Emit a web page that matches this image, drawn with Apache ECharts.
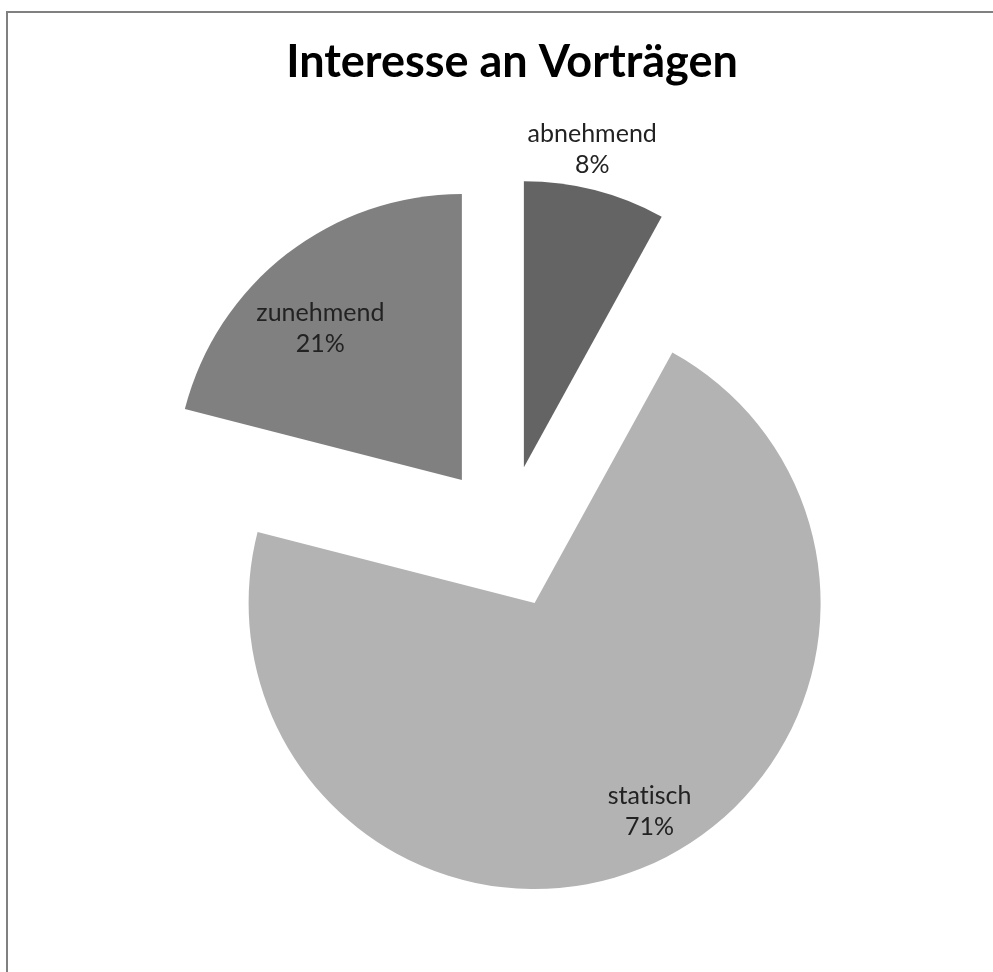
<!DOCTYPE html>
<html>
<head>
<meta charset="utf-8">
<script src="https://cdn.jsdelivr.net/npm/echarts@6/dist/echarts.min.js"></script>
<style>
html,body{margin:0;padding:0;background:#fff;}
#chart{width:993px;height:972px;}
</style>
</head>
<body>
<div id="chart"></div>
<script>
var titleText = 'Interesse an Vorträgen';
var categories = ['abnehmend', 'statisch', 'zunehmend'];
var values = [8, 71, 21];
var colors = ['#646464', '#b3b3b3', '#808080'];
var labelShift = [[32, -176], [57, 74], [-52, -36]];

// break font ligatures (e.g. "ti") without changing the visible text
function noLig(s) { return s.split('').join('\u200C'); }

var chart = echarts.init(document.getElementById('chart'));
var data = categories.map(function (c, i) {
  return { name: c, value: values[i], selected: true, itemStyle: { color: colors[i] } };
});
chart.setOption({
  backgroundColor: '#ffffff',
  animation: false,
  title: {
    text: titleText,
    left: 507,
    top: 35,
    textAlign: 'center',
    textStyle: { fontFamily: 'Lato', fontWeight: 'bold', fontSize: 45, color: '#000' }
  },
  graphic: [{
    type: 'rect',
    shape: { x: 7, y: 12, width: 1100, height: 1100 },
    style: { fill: 'none', stroke: '#808080', lineWidth: 2 },
    silent: true
  }],
  series: [{
    type: 'pie',
    center: [506, 537],
    radius: 286,
    startAngle: 90,
    clockwise: true,
    selectedMode: 'multiple',
    selectedOffset: 72,
    data: data,
    itemStyle: { borderWidth: 0 },
    emphasis: { disabled: true },
    label: {
      show: true,
      position: 'inside',
      formatter: function (p) { return noLig(p.name) + '\n' + p.percent + '%'; },
      fontFamily: 'Lato',
      fontSize: 25,
      lineHeight: 31,
      color: '#222'
    },
    labelLine: { show: false },
    labelLayout: function (p) {
      var s = labelShift[p.dataIndex];
      return { dx: s[0], dy: s[1] };
    }
  }]
});
</script>
</body>
</html>
